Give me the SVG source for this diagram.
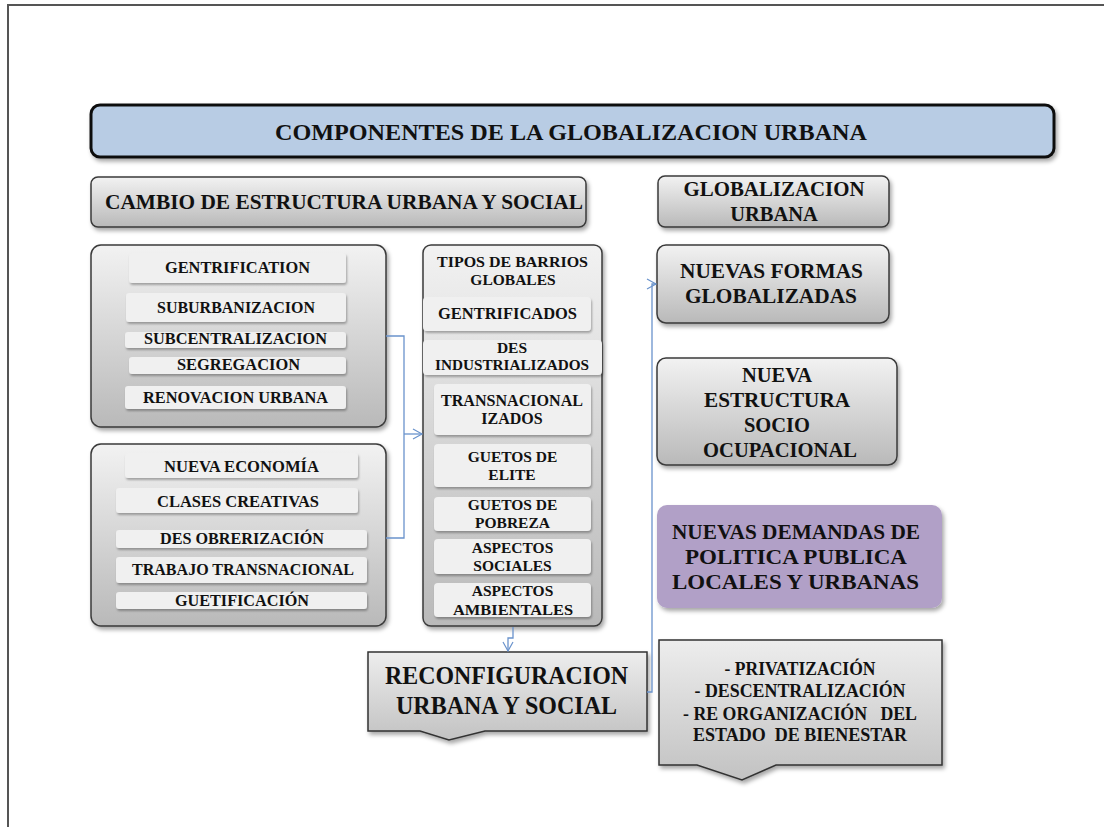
<svg xmlns="http://www.w3.org/2000/svg" width="1104" height="827" viewBox="0 0 1104 827" font-family="Liberation Serif, DejaVu Serif, serif">
<defs>
<linearGradient id="gray" x1="0" y1="0" x2="0" y2="1">
<stop offset="0" stop-color="#f2f2f2"/><stop offset="1" stop-color="#b9b9b9"/>
</linearGradient>
<linearGradient id="gray2" x1="0" y1="0" x2="0" y2="1">
<stop offset="0" stop-color="#ededed"/><stop offset="1" stop-color="#c2c2c2"/>
</linearGradient>
<filter id="sh" x="-10%" y="-10%" width="125%" height="130%">
<feDropShadow dx="2" dy="3" stdDeviation="2" flood-color="#000" flood-opacity="0.35"/>
</filter>
<filter id="sh2" x="-10%" y="-20%" width="125%" height="150%">
<feDropShadow dx="1" dy="2" stdDeviation="1.2" flood-color="#000" flood-opacity="0.3"/>
</filter>
<marker id="arr" markerWidth="12" markerHeight="12" refX="10" refY="6" orient="auto" markerUnits="userSpaceOnUse">
<path d="M1,1 L10,6 L1,11" fill="none" stroke="#6a93cc" stroke-width="1.2"/>
</marker>
</defs>
<style>
text{font-family:'Liberation Serif','DejaVu Serif',serif;font-weight:bold;fill:#111;text-anchor:middle}
.box{fill:url(#gray);stroke:#3a3a3a;stroke-width:1.5;filter:url(#sh)}
.item{fill:#f0f0f0;stroke:none;filter:url(#sh2)}
.conn{fill:none;stroke:#6a93cc;stroke-width:1.3}
.s16{font-size:16px}
.s15{font-size:15.5px}
.s20{font-size:20.5px}
.s21{font-size:21.5px}
.s18{font-size:18px}
</style>
<rect width="1104" height="827" fill="#fff"/>
<g id="frame" fill="none" stroke="#555" stroke-width="2">
<path d="M8,827 L8,5 L1104,5"/>
</g>

<g id="title">
<rect x="91" y="105" width="963" height="52" rx="9" fill="#b8cce4" stroke="#111" stroke-width="3" filter="url(#sh)"/>
<text x="571" y="140" font-size="23" textLength="592" lengthAdjust="spacingAndGlyphs">COMPONENTES  DE LA GLOBALIZACION  URBANA</text>
</g>

<g id="cambio">
<rect class="box" x="91" y="177" width="495" height="50" rx="7" stroke-width="2"/>
<text x="344" y="209" font-size="21" textLength="478" lengthAdjust="spacingAndGlyphs">CAMBIO DE ESTRUCTURA URBANA Y SOCIAL</text>
</g>

<g id="globalizacion">
<rect class="box" x="658" y="176" width="231" height="51" rx="7" stroke="#111" stroke-width="2.5"/>
<text class="s20" x="774" y="196" textLength="181" lengthAdjust="spacingAndGlyphs">GLOBALIZACION</text>
<text class="s20" x="774" y="221">URBANA</text>
</g>

<g id="grupo1">
<rect class="box" x="91" y="245" width="295" height="182" rx="10"/>
<rect class="item" x="129" y="253" width="217" height="30" rx="3"/>
<text class="s16" x="237.5" y="273" textLength="145" lengthAdjust="spacingAndGlyphs">GENTRIFICATION</text>
<rect class="item" x="126" y="293" width="220" height="29" rx="3"/>
<text class="s16" x="236" y="313" textLength="158" lengthAdjust="spacingAndGlyphs">SUBURBANIZACION</text>
<rect class="item" x="125" y="332" width="221" height="16" rx="3"/>
<text class="s16" x="235.5" y="344" textLength="183" lengthAdjust="spacingAndGlyphs">SUBCENTRALIZACION</text>
<rect class="item" x="129" y="357" width="217" height="17" rx="3"/>
<text class="s16" x="238.5" y="370" textLength="123" lengthAdjust="spacingAndGlyphs">SEGREGACION</text>
<rect class="item" x="125" y="386" width="221" height="23" rx="3"/>
<text class="s16" x="235.5" y="403" textLength="185" lengthAdjust="spacingAndGlyphs">RENOVACION URBANA</text>
</g>

<g id="grupo2">
<rect class="box" x="91" y="444" width="295" height="182" rx="10"/>
<rect class="item" x="125" y="453" width="233" height="25" rx="3"/>
<text class="s16" x="241.5" y="472" textLength="155" lengthAdjust="spacingAndGlyphs">NUEVA ECONOMÍA</text>
<rect class="item" x="116" y="488" width="242" height="25" rx="3"/>
<text class="s16" x="238" y="507" textLength="162" lengthAdjust="spacingAndGlyphs">CLASES CREATIVAS</text>
<rect class="item" x="116" y="530" width="251" height="18" rx="3"/>
<text class="s16" x="242" y="544" textLength="164" lengthAdjust="spacingAndGlyphs">DES OBRERIZACIÓN</text>
<rect class="item" x="116" y="557" width="251" height="26" rx="3"/>
<text class="s16" x="243" y="575" textLength="222" lengthAdjust="spacingAndGlyphs">TRABAJO TRANSNACIONAL</text>
<rect class="item" x="116" y="592" width="251" height="17" rx="3"/>
<text class="s16" x="242" y="606" textLength="134" lengthAdjust="spacingAndGlyphs">GUETIFICACIÓN</text>
</g>

<g id="barrios">
<rect class="box" x="423" y="245" width="179" height="381" rx="8"/>
<text class="s15" x="512.5" y="267" textLength="151" lengthAdjust="spacingAndGlyphs">TIPOS DE BARRIOS</text>
<text class="s15" x="513" y="285">GLOBALES</text>
<rect class="item" x="423" y="297" width="168" height="34" rx="4"/>
<text x="507.5" y="319" font-size="16" textLength="139" lengthAdjust="spacingAndGlyphs">GENTRIFICADOS</text>
<rect class="item" x="423" y="340" width="179" height="35" rx="4"/>
<text class="s15" x="512" y="353">DES</text>
<text class="s15" x="512" y="370" textLength="154" lengthAdjust="spacingAndGlyphs">INDUSTRIALIZADOS</text>
<rect class="item" x="434" y="384" width="157" height="51" rx="4"/>
<text x="512" y="406" font-size="16" textLength="142" lengthAdjust="spacingAndGlyphs">TRANSNACIONAL</text>
<text x="512" y="424" font-size="16">IZADOS</text>
<rect class="item" x="434" y="444" width="157" height="43" rx="4"/>
<text class="s15" x="512.5" y="462">GUETOS DE</text>
<text class="s15" x="512" y="480">ELITE</text>
<rect class="item" x="434" y="497" width="157" height="34" rx="4"/>
<text class="s15" x="512.5" y="510">GUETOS DE</text>
<text class="s15" x="512.5" y="528">POBREZA</text>
<rect class="item" x="434" y="539" width="157" height="35" rx="4"/>
<text class="s15" x="512.5" y="553">ASPECTOS</text>
<text class="s15" x="512.5" y="571">SOCIALES</text>
<rect class="item" x="434" y="583" width="157" height="34" rx="4"/>
<text class="s15" x="512.5" y="596">ASPECTOS</text>
<text class="s15" x="513" y="615" textLength="120" lengthAdjust="spacingAndGlyphs">AMBIENTALES</text>
</g>

<g id="nuevas-formas">
<rect class="box" x="657" y="245" width="232" height="78" rx="9"/>
<text class="s21" x="771.5" y="278" textLength="183" lengthAdjust="spacingAndGlyphs">NUEVAS FORMAS</text>
<text class="s21" x="771" y="303" textLength="172" lengthAdjust="spacingAndGlyphs">GLOBALIZADAS</text>
</g>

<g id="estructura">
<rect class="box" x="657" y="358" width="240" height="107" rx="9"/>
<text class="s20" x="777" y="382">NUEVA</text>
<text class="s20" x="777" y="407" textLength="146" lengthAdjust="spacingAndGlyphs">ESTRUCTURA</text>
<text class="s20" x="777" y="432">SOCIO</text>
<text class="s20" x="780" y="457" textLength="154" lengthAdjust="spacingAndGlyphs">OCUPACIONAL</text>
</g>

<g id="demandas">
<rect x="657" y="505" width="285" height="103" rx="10" fill="#b1a0c7" filter="url(#sh)"/>
<text class="s21" x="796" y="539" textLength="248" lengthAdjust="spacingAndGlyphs">NUEVAS DEMANDAS DE</text>
<text class="s21" x="796" y="564" textLength="222" lengthAdjust="spacingAndGlyphs">POLITICA PUBLICA</text>
<text class="s21" x="795.5" y="589" textLength="247" lengthAdjust="spacingAndGlyphs">LOCALES Y URBANAS</text>
</g>

<g id="reconfiguracion">
<path d="M368,652 H647 V731 H485 L449,740 L420,731 H368 Z" fill="url(#gray2)" stroke="#333" stroke-width="1.5" filter="url(#sh)"/>
<text x="506.5" y="684" font-size="25" textLength="243" lengthAdjust="spacingAndGlyphs">RECONFIGURACION</text>
<text x="506.5" y="714" font-size="25" textLength="221" lengthAdjust="spacingAndGlyphs">URBANA Y SOCIAL</text>
</g>

<g id="politicas">
<path d="M659,640 H942 V765 H776 L742,780 L697,765 H659 Z" fill="url(#gray2)" stroke="#333" stroke-width="1.5" filter="url(#sh)"/>
<text class="s18" x="800" y="675" textLength="151" lengthAdjust="spacingAndGlyphs">- PRIVATIZACIÓN</text>
<text class="s18" x="800" y="697" textLength="211" lengthAdjust="spacingAndGlyphs">- DESCENTRALIZACIÓN</text>
<text class="s18" x="800" y="720" xml:space="preserve" textLength="234" lengthAdjust="spacingAndGlyphs">- RE ORGANIZACIÓN   DEL</text>
<text class="s18" x="800" y="741" xml:space="preserve" textLength="214" lengthAdjust="spacingAndGlyphs">ESTADO  DE BIENESTAR</text>
</g>

<g id="connectors">
<path class="conn" d="M386,336 H404 V538 H386"/>
<path class="conn" d="M404,434 H422" marker-end="url(#arr)"/>
<path class="conn" d="M513,627 V638 H508 V651" marker-end="url(#arr)"/>
<path class="conn" d="M647,692 H652 V284 H656" marker-end="url(#arr)"/>
</g>
</svg>
